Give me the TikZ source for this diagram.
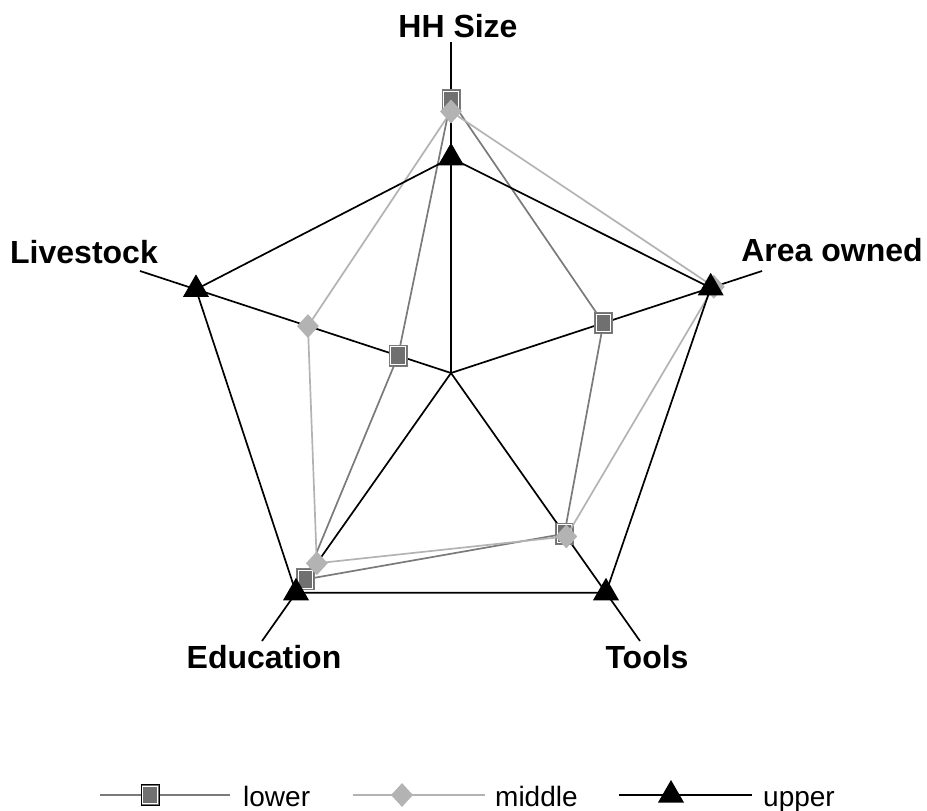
\documentclass[tikz,border=0pt]{standalone}
\usepackage{fontspec}
\setmainfont{Liberation Sans}
\usetikzlibrary{calc,shapes.geometric}
\definecolor{lowgray}{HTML}{7A7A7A}
\definecolor{lowfill}{HTML}{707070}
\definecolor{midgray}{HTML}{B3B3B3}
\begin{document}
\begin{tikzpicture}[x=1pt,y=-1pt,
  axisline/.style={black,line width=1.7pt},
  lowpoly/.style={draw=lowgray,line width=1.7pt,line join=round},
  midpoly/.style={draw=midgray,line width=1.7pt,line join=round},
  uppoly/.style={draw=black,line width=1.7pt,line join=round},
  sqmark/.style={rectangle,draw=lowgray,line width=0.8pt,fill=lowfill,
    minimum width=18pt,minimum height=21pt,inner sep=0pt,
    path picture={\draw[white,line width=0.9pt]
      ($(path picture bounding box.south west)+(1.6pt,1.6pt)$) rectangle
      ($(path picture bounding box.north east)+(-1.6pt,-1.6pt)$);}},
  dimark/.style={diamond,fill=midgray,minimum width=22pt,minimum height=24pt,inner sep=0pt},
  trimark/.style={regular polygon,regular polygon sides=3,fill=black,minimum size=30pt,inner sep=0pt},
  axlabel/.style={font=\bfseries\fontsize{32}{32}\selectfont,anchor=base,inner sep=0pt},
  leglabel/.style={font=\fontsize{28}{28}\selectfont,anchor=base west,inner sep=0pt}]
\useasboundingbox (0,0) rectangle (927,811);

% centre and axis ends
\coordinate (c)  at (451,373);
\coordinate (hh) at (451,42);
\coordinate (ar) at (762,271);
\coordinate (to) at (640,641);
\coordinate (ed) at (262,641);
\coordinate (li) at (140,271);
\foreach \e in {hh,ar,to,ed,li} \draw[axisline] (c) -- (\e);

% axis labels
\node[axlabel] (lab-hh) at (458,37)  {HH Size};
\node[axlabel] (lab-ar) at (832,261) {Area owned};
\node[axlabel] (lab-li) at (84,263)  {Livestock};
\node[axlabel] (lab-ed) at (264,668) {Education};
\node[axlabel] (lab-to) at (647,668) {Tools};

% lower series
\coordinate (l1) at ($(c)!0.825!(hh)$);
\coordinate (l2) at ($(c)!0.49!(ar)$);
\coordinate (l3) at ($(c)!0.60!(to)$);
\coordinate (l4) at ($(c)!0.77!(ed)$);
\coordinate (l5) at ($(c)!0.17!(li)$);
\draw[lowpoly] (l1) -- (l2) -- (l3) -- (l4) -- (l5) -- cycle;
\foreach \p in {l1,l2,l3,l4,l5} \node[sqmark] (m-\p) at (\p) {};

% middle series
\coordinate (d1) at ($(c)!0.79!(hh)$);
\coordinate (d2) at ($(c)!0.845!(ar)$);
\coordinate (d3) at ($(c)!0.61!(to)$);
\coordinate (d4) at ($(c)!0.71!(ed)$);
\coordinate (d5) at ($(c)!0.46!(li)$);
\draw[midpoly] (d1) -- (d2) -- (d3) -- (d4) -- (d5) -- cycle;
\foreach \p in {d1,d2,d3,d4,d5} \node[dimark] (m-\p) at (\p) {};

% upper series
\coordinate (u1) at ($(c)!0.65!(hh)$);
\coordinate (u2) at ($(c)!0.835!(ar)$);
\coordinate (u3) at ($(c)!0.82!(to)$);
\coordinate (u4) at ($(c)!0.82!(ed)$);
\coordinate (u5) at ($(c)!0.82!(li)$);
\draw[uppoly] (u1) -- (u2) -- (u3) -- (u4) -- (u5) -- cycle;
\foreach \p in {u1,u2,u3,u4,u5} \node[trimark] (m-\p) at (\p) {};

% legend
\coordinate (k1a) at (100,795); \coordinate (k1b) at (230,795);
\draw[lowpoly] (k1a) -- (k1b);
\node[sqmark,draw=black] (k1m) at (150,795) {};
\node[leglabel] (k1t) at (243,806) {lower};

\coordinate (k2a) at (353,795); \coordinate (k2b) at (485,795);
\draw[midpoly] (k2a) -- (k2b);
\node[dimark] (k2m) at (402,795) {};
\node[leglabel] (k2t) at (495,806) {middle};

\coordinate (k3a) at (619,795); \coordinate (k3b) at (752,795);
\draw[uppoly] (k3a) -- (k3b);
\node[trimark] (k3m) at (671,795) {};
\node[leglabel] (k3t) at (763,806) {upper};
\end{tikzpicture}
\end{document}
